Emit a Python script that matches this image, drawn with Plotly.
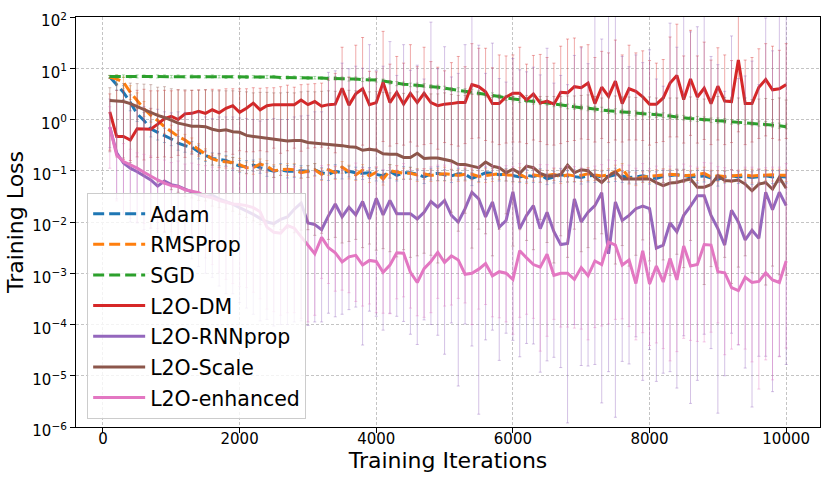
import numpy as np
import plotly.graph_objects as go

iterations = list(range(100, 10001, 100))

# mean training loss, stored as log10 values
adam_log10 = [0.83,0.69,0.53,0.33,0.11,-0.02,-0.18,-0.25,-0.31,-0.38,
 -0.46,-0.51,-0.54,-0.63,-0.70,-0.76,-0.78,-0.80,-0.86,-0.91,
 -0.92,-0.89,-0.94,-0.98,-1.01,-0.98,-1.01,-1.01,-1.00,-1.01,
 -0.98,-1.04,-1.07,-1.01,-1.04,-1.01,-1.04,-1.05,-1.04,-1.07,
 -1.10,-1.01,-1.09,-1.04,-1.04,-1.07,-1.12,-1.06,-1.05,-1.08,
 -1.10,-1.06,-1.07,-1.15,-1.09,-1.04,-1.05,-1.08,-1.07,-1.09,
 -1.12,-1.09,-1.11,-1.08,-1.16,-1.12,-1.08,-1.10,-1.11,-1.13,
 -1.10,-1.09,-1.12,-1.11,-1.08,-1.11,-1.13,-1.12,-1.10,-1.13,
 -1.15,-1.11,-1.10,-1.08,-1.09,-1.12,-1.11,-1.10,-1.14,-1.17,
 -1.12,-1.10,-1.12,-1.11,-1.13,-1.11,-1.10,-1.12,-1.11,-1.12]
rmsprop_log10 = [0.83,0.79,0.73,0.53,0.37,0.21,0.08,-0.02,-0.14,-0.24,
 -0.33,-0.40,-0.49,-0.59,-0.68,-0.77,-0.81,-0.83,-0.84,-0.88,
 -0.94,-0.94,-0.87,-0.91,-1.00,-0.98,-0.97,-0.98,-1.04,-1.01,
 -0.98,-1.07,-0.98,-1.04,-0.93,-1.02,-1.08,-0.99,-1.10,-1.03,
 -1.16,-1.00,-1.03,-1.05,-1.05,-1.08,-1.06,-1.09,-1.07,-1.06,
 -1.07,-1.09,-1.07,-1.07,-1.11,-1.09,-1.08,-1.06,-1.08,-1.09,
 -1.07,-1.14,-1.08,-1.10,-1.09,-1.07,-1.12,-1.08,-1.10,-1.09,
 -1.06,-1.08,-1.10,-1.08,-1.02,-0.96,-1.14,-1.16,-1.12,-1.11,
 -1.10,-1.09,-1.07,-1.08,-1.10,-1.09,-1.07,-1.05,-1.12,-1.10,
 -1.11,-1.10,-1.09,-1.08,-1.10,-1.09,-1.08,-1.08,-1.09,-1.09]
sgd_log10 = [0.84,0.84,0.84,0.84,0.84,0.84,0.84,0.84,0.84,0.84,
 0.84,0.84,0.84,0.83,0.84,0.84,0.83,0.83,0.83,0.83,
 0.83,0.83,0.83,0.83,0.83,0.82,0.82,0.82,0.82,0.81,
 0.81,0.81,0.80,0.80,0.80,0.79,0.79,0.78,0.78,0.77,
 0.75,0.73,0.70,0.69,0.68,0.67,0.66,0.65,0.63,0.61,
 0.59,0.58,0.56,0.54,0.52,0.49,0.47,0.45,0.42,0.40,
 0.38,0.37,0.35,0.34,0.32,0.30,0.28,0.26,0.25,0.23,
 0.22,0.20,0.19,0.17,0.16,0.15,0.13,0.12,0.11,0.10,
 0.09,0.08,0.07,0.05,0.03,0.02,0.01,0.00,-0.01,-0.02,
 -0.03,-0.04,-0.05,-0.06,-0.07,-0.08,-0.09,-0.10,-0.12,-0.14]
l2o_dm_log10 = [0.15,-0.33,-0.33,-0.40,-0.18,-0.19,-0.19,-0.09,0.02,0.06,
 0.00,0.11,0.12,0.16,0.12,0.19,0.13,0.22,0.27,0.14,
 0.22,0.32,0.19,0.27,0.29,0.29,0.29,0.29,0.38,0.29,
 0.35,0.26,0.29,0.30,0.61,0.28,0.50,0.60,0.29,0.33,
 0.72,0.33,0.53,0.30,0.51,0.33,0.51,0.33,0.27,0.30,
 0.31,0.33,0.33,0.68,0.64,0.54,0.31,0.31,0.44,0.51,
 0.51,0.38,0.50,0.32,0.36,0.30,0.53,0.52,0.64,0.62,
 0.71,0.31,0.63,0.45,0.75,0.31,0.60,0.55,0.44,0.30,
 0.30,0.42,0.71,0.86,0.39,0.79,0.44,0.61,0.31,0.65,
 0.36,0.35,1.16,0.31,0.31,0.63,0.78,0.58,0.60,0.68]
l2o_rnnprop_log10 = [-0.15,-0.65,-0.85,-0.95,-1.02,-1.10,-1.18,-1.30,-1.20,-1.27,
 -1.30,-1.36,-1.42,-1.47,-1.50,-1.48,-1.55,-1.60,-1.65,-1.72,
 -1.78,-1.85,-1.93,-2.00,-2.03,-1.95,-1.90,-1.75,-1.63,-2.02,
 -2.05,-2.15,-1.88,-1.65,-1.90,-1.71,-1.86,-1.60,-1.94,-1.54,
 -1.86,-1.58,-1.84,-1.84,-1.84,-1.94,-1.81,-1.60,-1.71,-1.58,
 -1.87,-2.00,-1.74,-1.42,-1.55,-1.90,-1.61,-2.10,-1.97,-1.41,
 -2.13,-1.87,-1.68,-2.13,-1.81,-2.19,-2.44,-2.42,-1.55,-2.00,
 -1.81,-1.68,-1.43,-2.62,-1.61,-1.97,-1.87,-1.74,-1.69,-1.74,
 -2.51,-2.45,-2.02,-2.19,-1.87,-1.69,-1.49,-1.49,-1.87,-2.13,
 -2.45,-1.77,-2.00,-2.35,-2.16,-2.32,-1.42,-1.76,-1.42,-1.68]
l2o_scale_log10 = [0.37,0.36,0.35,0.31,0.25,0.19,0.13,0.08,0.04,-0.02,
 -0.07,-0.10,-0.13,-0.13,-0.14,-0.19,-0.22,-0.20,-0.24,-0.25,
 -0.31,-0.33,-0.35,-0.37,-0.38,-0.40,-0.42,-0.41,-0.41,-0.45,
 -0.46,-0.47,-0.49,-0.50,-0.51,-0.53,-0.54,-0.60,-0.58,-0.60,
 -0.67,-0.68,-0.68,-0.74,-0.74,-0.66,-0.76,-0.75,-0.75,-0.78,
 -0.81,-0.88,-0.88,-0.91,-0.94,-0.83,-0.91,-0.94,-1.04,-0.97,
 -1.05,-0.91,-0.94,-1.05,-1.10,-1.10,-1.07,-0.89,-1.04,-0.98,
 -1.00,-1.13,-1.23,-1.10,-1.02,-1.16,-1.16,-1.15,-1.15,-1.16,
 -1.23,-1.29,-1.24,-1.23,-1.19,-1.16,-1.32,-1.32,-1.27,-1.10,
 -1.19,-1.20,-1.18,-1.26,-1.39,-1.26,-1.23,-1.36,-1.13,-1.34]
l2o_enhanced_log10 = [-0.15,-0.69,-0.82,-0.88,-0.95,-1.03,-1.11,-1.18,-1.24,-1.29,
 -1.31,-1.37,-1.40,-1.43,-1.50,-1.53,-1.58,-1.62,-1.65,-1.66,
 -1.68,-1.72,-1.80,-2.10,-2.20,-2.22,-2.07,-2.12,-2.28,-2.45,
 -2.62,-2.30,-2.50,-2.60,-2.78,-2.68,-2.65,-2.84,-2.75,-2.77,
 -2.98,-2.84,-2.60,-2.61,-2.98,-3.18,-2.91,-2.77,-2.59,-2.79,
 -2.66,-2.74,-3.02,-3.00,-2.92,-2.81,-3.05,-2.97,-3.00,-3.12,
 -2.56,-2.70,-2.83,-2.88,-2.63,-3.04,-3.00,-3.00,-3.12,-2.89,
 -3.05,-2.76,-2.83,-2.39,-2.45,-2.84,-2.74,-3.20,-2.56,-3.21,
 -2.86,-3.17,-2.71,-3.13,-2.47,-2.86,-2.83,-2.44,-2.45,-2.97,
 -2.99,-3.28,-3.34,-3.08,-3.18,-3.16,-2.99,-3.13,-3.18,-2.76]

# error-bar extents above / below the mean, in decades (log10 units)
adam_err_up = [0.03,0.10,0.13,0.15,0.14,0.16,0.15,0.13,0.14,0.12,
 0.13,0.12,0.11,0.13,0.10,0.11,0.12,0.10,0.12,0.11,
 0.12,0.10,0.11,0.12,0.10,0.12,0.11,0.13,0.10,0.11,
 0.12,0.10,0.11,0.13,0.12,0.10,0.11,0.12,0.10,0.12,
 0.11,0.13,0.10,0.12,0.11,0.10,0.12,0.11,0.13,0.10,
 0.12,0.11,0.10,0.12,0.13,0.11,0.10,0.12,0.11,0.12,
 0.10,0.11,0.13,0.12,0.10,0.11,0.12,0.10,0.13,0.11,
 0.12,0.10,0.11,0.12,0.13,0.10,0.11,0.12,0.10,0.11,
 0.13,0.12,0.10,0.11,0.12,0.10,0.12,0.11,0.13,0.10,
 0.11,0.12,0.10,0.12,0.11,0.13,0.10,0.12,0.11,0.12]
adam_err_down = [0.03,0.12,0.14,0.16,0.15,0.17,0.16,0.15,0.14,0.13,
 0.14,0.13,0.12,0.14,0.12,0.13,0.12,0.11,0.13,0.12,
 0.13,0.12,0.11,0.13,0.12,0.11,0.13,0.12,0.14,0.12,
 0.11,0.13,0.12,0.14,0.12,0.11,0.13,0.12,0.11,0.13,
 0.12,0.14,0.11,0.13,0.12,0.11,0.13,0.12,0.14,0.11,
 0.13,0.12,0.11,0.14,0.12,0.13,0.11,0.12,0.13,0.12,
 0.11,0.13,0.12,0.14,0.11,0.12,0.13,0.12,0.11,0.13,
 0.12,0.14,0.11,0.12,0.13,0.12,0.11,0.14,0.12,0.13,
 0.11,0.12,0.13,0.12,0.14,0.11,0.13,0.12,0.11,0.13,
 0.12,0.11,0.13,0.12,0.14,0.12,0.11,0.13,0.12,0.12]
rmsprop_err_up = [0.03,0.08,0.10,0.13,0.15,0.14,0.13,0.14,0.12,0.13,
 0.12,0.11,0.13,0.12,0.11,0.10,0.12,0.11,0.10,0.12,
 0.11,0.12,0.10,0.11,0.12,0.10,0.11,0.12,0.10,0.11,
 0.12,0.11,0.10,0.12,0.11,0.13,0.10,0.11,0.12,0.10,
 0.11,0.12,0.13,0.10,0.11,0.12,0.10,0.11,0.12,0.13,
 0.10,0.11,0.12,0.10,0.11,0.13,0.12,0.10,0.11,0.12,
 0.13,0.10,0.11,0.12,0.10,0.11,0.12,0.13,0.10,0.11,
 0.12,0.10,0.11,0.12,0.13,0.10,0.11,0.12,0.10,0.11,
 0.12,0.13,0.10,0.11,0.12,0.10,0.11,0.12,0.13,0.10,
 0.11,0.12,0.10,0.11,0.13,0.12,0.10,0.11,0.12,0.11]
rmsprop_err_down = [0.03,0.10,0.12,0.14,0.16,0.15,0.14,0.15,0.13,0.14,
 0.13,0.12,0.14,0.13,0.12,0.12,0.13,0.12,0.11,0.13,
 0.12,0.13,0.11,0.12,0.13,0.11,0.12,0.13,0.11,0.12,
 0.13,0.12,0.11,0.13,0.12,0.14,0.11,0.12,0.13,0.11,
 0.12,0.13,0.14,0.11,0.12,0.13,0.11,0.12,0.13,0.14,
 0.11,0.12,0.13,0.11,0.12,0.14,0.13,0.11,0.12,0.13,
 0.14,0.11,0.12,0.13,0.11,0.12,0.13,0.14,0.11,0.12,
 0.13,0.11,0.12,0.13,0.14,0.11,0.12,0.13,0.11,0.12,
 0.13,0.14,0.11,0.12,0.13,0.11,0.12,0.13,0.14,0.11,
 0.12,0.13,0.11,0.12,0.14,0.13,0.11,0.12,0.13,0.12]
sgd_err_up = [0.02,0.03,0.03,0.02,0.03,0.03,0.02,0.03,0.03,0.02,
 0.03,0.02,0.03,0.03,0.02,0.03,0.03,0.02,0.03,0.02,
 0.03,0.03,0.02,0.03,0.03,0.02,0.03,0.03,0.02,0.03,
 0.03,0.02,0.03,0.04,0.03,0.03,0.04,0.03,0.04,0.03,
 0.04,0.03,0.04,0.04,0.03,0.04,0.04,0.03,0.04,0.04,
 0.03,0.04,0.04,0.05,0.04,0.04,0.05,0.04,0.04,0.05,
 0.04,0.05,0.04,0.05,0.05,0.04,0.05,0.04,0.05,0.05,
 0.04,0.05,0.05,0.04,0.05,0.05,0.04,0.05,0.05,0.04,
 0.05,0.05,0.04,0.05,0.05,0.04,0.05,0.05,0.04,0.05,
 0.05,0.04,0.05,0.05,0.04,0.05,0.05,0.04,0.05,0.05]
sgd_err_down = [0.02,0.03,0.02,0.03,0.03,0.02,0.03,0.03,0.02,0.03,
 0.02,0.03,0.03,0.02,0.03,0.03,0.02,0.03,0.02,0.03,
 0.03,0.02,0.03,0.03,0.02,0.03,0.03,0.02,0.03,0.03,
 0.02,0.03,0.04,0.03,0.03,0.04,0.03,0.04,0.03,0.04,
 0.03,0.04,0.04,0.03,0.04,0.04,0.03,0.04,0.04,0.03,
 0.04,0.04,0.05,0.04,0.04,0.05,0.04,0.04,0.05,0.04,
 0.05,0.04,0.05,0.05,0.04,0.05,0.04,0.05,0.05,0.04,
 0.05,0.05,0.04,0.05,0.05,0.04,0.05,0.05,0.04,0.05,
 0.05,0.04,0.05,0.05,0.04,0.05,0.05,0.04,0.05,0.05,
 0.04,0.05,0.05,0.04,0.05,0.05,0.04,0.05,0.05,0.04]
l2o_dm_err_up = [0.35,0.90,0.90,0.95,0.75,0.78,0.75,0.65,0.55,0.50,
 0.58,0.45,0.45,0.42,0.46,0.40,0.45,0.38,0.33,0.46,
 0.38,0.30,0.42,0.35,0.33,0.35,0.38,0.34,0.30,0.40,
 0.35,0.45,0.50,0.60,0.80,0.55,0.95,1.00,0.65,0.60,
 1.00,0.75,0.70,0.80,0.95,0.70,0.90,0.80,0.75,0.65,
 0.80,0.90,0.70,0.80,0.75,0.85,0.70,0.95,0.80,0.75,
 0.90,0.70,0.75,0.95,0.85,0.80,0.90,1.05,0.95,0.80,
 0.75,0.90,0.70,0.85,0.80,0.95,0.85,0.75,0.90,0.85,
 0.80,0.75,0.90,1.00,0.85,0.95,0.80,0.90,0.85,0.75,
 0.90,0.80,1.20,0.85,0.90,0.75,0.70,0.85,0.75,0.80]
l2o_dm_err_down = [0.75,0.40,0.45,0.40,0.55,0.60,0.55,0.65,0.75,0.80,
 0.70,0.85,0.80,0.85,0.75,0.90,0.80,0.85,0.95,0.75,
 0.85,0.95,0.80,0.90,0.85,0.95,0.90,0.85,1.00,0.85,
 0.90,0.80,0.85,0.95,1.10,0.80,1.05,1.10,0.85,0.90,
 1.15,0.85,1.00,0.80,0.95,0.85,1.00,0.80,0.85,0.75,
 0.80,0.85,0.80,1.05,1.00,0.95,0.75,0.80,0.90,0.95,
 0.95,0.85,0.90,0.75,0.85,0.80,1.00,0.95,1.05,1.00,
 1.10,0.75,1.00,0.90,1.15,0.75,1.00,0.95,0.85,0.80,
 0.75,0.85,1.05,1.20,0.85,1.10,0.90,1.00,0.80,1.05,
 0.85,0.80,1.40,0.80,0.75,1.00,1.10,0.95,1.00,1.05]
l2o_rnnprop_err_up = [0.55,1.00,1.20,1.25,1.30,1.35,1.40,1.50,1.35,1.40,
 1.45,1.50,1.55,1.60,1.55,1.50,1.60,1.65,1.70,1.75,
 1.80,1.85,1.90,2.00,2.05,1.95,1.90,1.80,1.70,2.10,
 2.20,2.30,2.80,2.60,3.00,2.70,2.90,2.60,3.40,2.50,
 2.90,3.10,2.70,3.30,2.80,3.00,2.60,3.50,2.70,3.00,
 2.70,2.90,3.20,4.00,3.00,2.80,3.10,2.90,2.70,2.60,
 3.10,2.80,2.70,3.00,3.20,2.90,3.30,3.10,2.80,3.40,
 2.90,4.20,3.00,4.80,4.00,3.20,2.90,3.00,2.80,3.10,
 3.30,3.10,3.90,3.60,4.00,3.40,3.30,3.60,3.10,3.20,
 3.00,3.40,2.80,3.20,3.30,3.00,3.40,3.10,3.70,3.80]
l2o_rnnprop_err_down = [0.40,0.90,1.00,1.05,1.00,1.05,0.95,0.90,1.00,1.05,
 1.10,1.20,1.30,1.40,1.50,1.60,1.70,1.80,1.75,1.85,
 1.90,1.95,2.00,1.90,2.00,2.05,2.10,2.20,2.30,2.00,
 1.90,1.80,1.90,2.20,1.90,2.00,1.80,2.80,1.80,2.30,
 2.25,2.20,2.00,2.10,2.35,2.45,2.10,2.40,2.50,3.00,
 2.10,3.20,2.25,3.00,4.20,2.40,2.50,2.60,2.20,2.90,
 2.50,2.50,2.70,2.80,2.90,2.45,2.40,3.50,2.45,2.80,
 3.00,3.10,4.10,2.30,4.20,2.75,2.90,2.50,3.40,2.75,
 2.60,2.50,2.90,3.05,2.35,3.85,3.60,2.70,2.60,3.60,
 2.55,2.40,2.40,2.50,3.45,2.30,3.20,3.55,3.20,3.10]
l2o_scale_err_up = [0.25,0.30,0.35,0.40,0.45,0.50,0.55,0.55,0.60,0.62,
 0.65,0.68,0.70,0.70,0.72,0.75,0.78,0.76,0.80,0.80,
 0.85,0.85,0.88,0.90,0.90,0.92,0.95,0.93,0.95,1.00,
 1.00,1.02,1.05,1.05,1.08,1.10,1.10,1.15,1.12,1.15,
 1.20,1.20,1.18,1.25,1.25,1.20,1.28,1.25,1.25,1.30,
 1.30,1.35,1.35,1.40,1.42,1.30,1.38,1.40,1.50,1.42,
 1.50,1.38,1.40,1.50,1.55,1.55,1.52,1.35,1.50,1.45,
 1.48,1.58,1.65,1.55,1.48,1.60,1.60,1.58,1.60,1.60,
 1.65,1.70,1.66,1.65,1.62,1.60,1.72,1.72,1.68,1.55,
 1.62,1.62,1.60,1.68,1.78,1.66,1.64,1.75,1.55,1.72]
l2o_scale_err_down = [1.00,1.05,1.10,1.15,1.20,1.25,1.25,1.30,1.30,1.35,
 1.35,1.40,1.40,1.45,1.45,1.50,1.50,1.55,1.55,1.60,
 1.60,1.65,1.70,1.60,1.70,1.75,1.70,1.80,1.75,1.70,
 1.80,1.75,1.85,1.80,1.90,1.85,1.80,1.90,1.85,1.95,
 1.85,1.90,2.00,1.80,1.95,2.00,1.85,1.90,2.05,1.95,
 1.00,1.30,0.95,1.60,1.20,1.40,1.75,1.20,0.80,1.50,
 1.10,1.45,1.60,0.90,1.30,1.70,1.20,1.80,1.10,1.60,
 1.50,1.20,1.00,1.40,1.80,1.30,1.70,1.50,1.20,1.60,
 1.70,1.45,1.80,1.40,1.70,1.20,1.50,1.90,1.60,1.80,
 1.50,2.00,1.70,1.40,1.60,1.90,2.00,1.50,1.90,1.70]
l2o_enhanced_err_up = [0.40,0.35,0.35,0.30,0.30,0.35,0.40,0.40,0.45,0.45,
 0.50,0.50,0.55,0.55,0.60,0.60,0.65,0.70,0.70,0.70,
 0.75,0.80,0.85,1.10,1.20,1.20,1.10,1.20,1.30,1.40,
 1.60,1.40,1.60,1.70,1.80,1.70,1.80,1.90,1.80,1.85,
 2.00,1.90,1.70,1.75,2.00,2.20,1.95,1.85,1.70,1.90,
 1.80,1.85,2.10,2.05,2.00,1.90,2.15,2.05,2.10,2.20,
 1.70,1.80,1.90,2.00,1.75,2.10,2.05,2.10,2.20,1.95,
 2.10,1.85,1.95,1.60,1.65,1.95,1.85,2.25,1.70,2.25,
 1.95,2.20,1.80,2.15,1.60,1.95,1.90,1.60,1.60,2.05,
 2.05,2.30,2.35,2.15,2.25,2.20,2.05,2.20,2.25,1.90]
l2o_enhanced_err_down = [0.80,0.90,1.00,1.05,1.05,1.00,1.00,0.95,0.95,0.90,
 0.95,1.00,1.05,1.10,1.20,1.30,1.40,1.50,1.55,1.60,
 1.60,1.65,1.70,1.60,1.55,1.60,1.70,1.65,1.60,1.50,
 1.20,0.80,0.70,0.75,0.55,0.70,0.90,0.80,0.85,1.00,
 0.80,0.95,0.90,0.85,0.70,0.65,0.95,1.00,0.90,0.85,
 0.96,0.75,0.56,1.00,0.78,0.80,0.80,0.90,0.95,1.07,
 1.30,1.10,1.05,1.64,1.60,0.86,1.05,1.05,0.95,1.20,
 1.25,1.30,1.20,1.60,1.45,1.05,1.30,1.10,1.60,1.20,
 1.50,1.30,2.00,1.40,1.80,1.45,1.50,1.90,1.70,1.00,
 1.60,1.20,1.05,1.40,1.55,2.10,1.70,1.95,1.45,1.70]

series = [
    ("Adam", adam_log10, adam_err_up, adam_err_down, "#1f77b4", "dash"),
    ("RMSProp", rmsprop_log10, rmsprop_err_up, rmsprop_err_down, "#ff7f0e", "dash"),
    ("SGD", sgd_log10, sgd_err_up, sgd_err_down, "#2ca02c", "dash"),
    ("L2O-DM", l2o_dm_log10, l2o_dm_err_up, l2o_dm_err_down, "#d62728", "solid"),
    ("L2O-RNNprop", l2o_rnnprop_log10, l2o_rnnprop_err_up, l2o_rnnprop_err_down, "#9467bd", "solid"),
    ("L2O-Scale", l2o_scale_log10, l2o_scale_err_up, l2o_scale_err_down, "#8c564b", "solid"),
    ("L2O-enhanced", l2o_enhanced_log10, l2o_enhanced_err_up, l2o_enhanced_err_down, "#e377c2", "solid"),
]

def rgba(hex_color, a):
    h = hex_color.lstrip("#")
    return "rgba(%d,%d,%d,%.2f)" % (int(h[0:2], 16), int(h[2:4], 16), int(h[4:6], 16), a)

fig = go.Figure()
for name, lg, up, dn, color, dash in series:
    lg = np.array(lg)
    mean = 10 ** lg
    plus = 10 ** (lg + np.array(up)) - mean
    minus = mean - 10 ** (lg - np.array(dn))
    fig.add_trace(go.Scatter(
        x=iterations, y=mean, mode="lines", name=name, legendgroup=name,
        line=dict(color=color, width=3, dash=("11px,5px" if dash == "dash" else "solid")),
        error_y=dict(type="data", symmetric=False, array=plus, arrayminus=minus,
                     color=rgba(color, 0.4), thickness=1, width=1.5),
    ))

y_tickvals = [1e-6, 1e-5, 1e-4, 1e-3, 1e-2, 1e-1, 1e0, 1e1, 1e2]
y_ticktext = ["10<sup>\u22126</sup>", "10<sup>\u22125</sup>", "10<sup>\u22124</sup>",
              "10<sup>\u22123</sup>", "10<sup>\u22122</sup>", "10<sup>\u22121</sup>",
              "10<sup>0</sup>", "10<sup>1</sup>", "10<sup>2</sup>"]
x_tickvals = [0, 2000, 4000, 6000, 8000, 10000]
x_ticktext = ["0", "2000", "4000", "6000", "8000", "10000"]

fig.update_layout(
    width=831, height=482,
    margin=dict(l=76, r=10, t=12, b=55),
    paper_bgcolor="white", plot_bgcolor="white",
    font=dict(family="DejaVu Sans", color="black", size=15),
    showlegend=True,
    legend=dict(x=0.015, y=0.02, xanchor="left", yanchor="bottom",
                bgcolor="rgba(255,255,255,0.8)", bordercolor="#cccccc", borderwidth=1,
                font=dict(size=20.5), traceorder="grouped", tracegroupgap=1,
                itemwidth=52),
    xaxis=dict(range=[-395, 10495], tickvals=x_tickvals, ticktext=x_ticktext,
               showline=True, mirror=True, linecolor="black", linewidth=1.2,
               ticks="outside", ticklen=5, tickcolor="black", ticklabelstandoff=-7,
               showgrid=True, gridcolor="#c4c4c4", griddash="3px,2px", gridwidth=0.8,
               zeroline=False, tickfont=dict(size=15),
               title=dict(text="Training Iterations", font=dict(size=22), standoff=0)),
    yaxis=dict(type="log", range=[-6, 2], tickvals=y_tickvals, ticktext=y_ticktext,
               showline=True, mirror=True, linecolor="black", linewidth=1.2,
               ticks="outside", ticklen=5, tickcolor="black", ticklabelshift=4,
               showgrid=True, gridcolor="#c4c4c4", griddash="3px,2px", gridwidth=0.8,
               zeroline=False, tickfont=dict(size=15),
               title=dict(text="Training Loss", font=dict(size=22), standoff=2)),
)

fig.write_html("out.html", config={"displayModeBar": False},
               post_script="document.body.style.margin='0';document.body.style.overflow='hidden';")
